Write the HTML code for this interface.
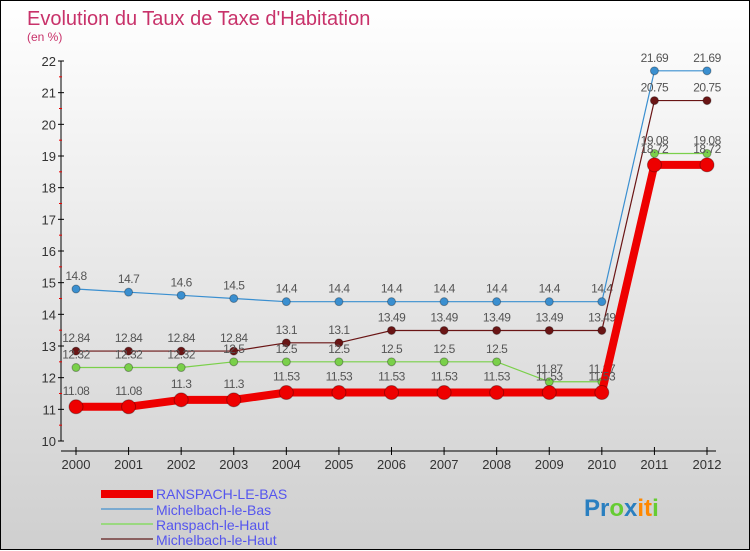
<!DOCTYPE html>
<html><head><meta charset="utf-8"><style>
body{margin:0;width:750px;height:550px;overflow:hidden;font-family:"Liberation Sans",sans-serif}
#wrap{position:relative;width:748px;height:548px;border:1px solid #000;background:linear-gradient(#fff,#cfcfcf)}
svg{position:absolute;left:0;top:0}
</style></head><body>
<div id="wrap">
<svg id="c" width="750" height="550">
<text x="26" y="24" font-size="20" fill="#c8326a">Evolution du Taux de Taxe d'Habitation</text>
<text x="26" y="40" font-size="12" fill="#c8326a">(en %)</text>
<g id="axes"></g><g id="series"></g>
<g>
<rect x="100" y="489" width="52" height="8" fill="#e00"/>
<text x="155" y="498" font-size="14" fill="#5555ee">RANSPACH-LE-BAS</text>
<line x1="100" y1="508" x2="152" y2="508" stroke="#7aaad0" stroke-width="2"/>
<text x="155" y="514" font-size="14" fill="#5555ee">Michelbach-le-Bas</text>
<line x1="100" y1="523" x2="152" y2="523" stroke="#9ad880" stroke-width="2"/>
<text x="155" y="529" font-size="14" fill="#5555ee">Ranspach-le-Haut</text>
<line x1="100" y1="538" x2="152" y2="538" stroke="#8a6060" stroke-width="2"/>
<text x="155" y="544" font-size="14" fill="#5555ee">Michelbach-le-Haut</text>
</g>
<text x="583" y="515" font-size="24" font-weight="bold"><tspan fill="#2a7fc0">Pr</tspan><tspan fill="#6c3">o</tspan><tspan fill="#2a7fc0">x</tspan><tspan fill="#f80">it</tspan><tspan fill="#6c3">i</tspan></text>
</svg></div>
<script>
const years=[2000,2001,2002,2003,2004,2005,2006,2007,2008,2009,2010,2011,2012];
const yTicks=[10,11,12,13,14,15,16,17,18,19,20,21,22];
const ranspachBas=[11.08,11.08,11.3,11.3,11.53,11.53,11.53,11.53,11.53,11.53,11.53,18.72,18.72];
const michelbachBas=[14.8,14.7,14.6,14.5,14.4,14.4,14.4,14.4,14.4,14.4,14.4,21.69,21.69];
const ranspachHaut=[12.32,12.32,12.32,12.5,12.5,12.5,12.5,12.5,12.5,11.87,11.87,19.08,19.08];
const michelbachHaut=[12.84,12.84,12.84,12.84,13.1,13.1,13.49,13.49,13.49,13.49,13.49,20.75,20.75];
const NS='http://www.w3.org/2000/svg';
const xs=i=>75+i*(706-75)/(years.length-1);
const ys=v=>440-(v-10)*(380/12);
function mk(t,a,p){const e=document.createElementNS(NS,t);for(const k in a)e.setAttribute(k,a[k]);p.appendChild(e);return e;}
const ax=document.getElementById('axes');
mk('line',{x1:60,y1:60,x2:60,y2:440,stroke:'#000'},ax);
mk('line',{x1:60,y1:450,x2:715,y2:450,stroke:'#000'},ax);
yTicks.forEach(v=>{
 mk('line',{x1:57,y1:ys(v),x2:63,y2:ys(v),stroke:'#000'},ax);
 if(v<22) mk('line',{x1:58,y1:ys(v+0.5),x2:61,y2:ys(v+0.5),stroke:'#e00'},ax);
 const t=mk('text',{x:55,y:ys(v)+5,'font-size':13,'text-anchor':'end',fill:'#333'},ax);t.textContent=v;
 
 
});
years.forEach((y,i)=>{
 mk('line',{x1:xs(i),y1:446,x2:xs(i),y2:454,stroke:'#000'},ax);
 const t=mk('text',{x:xs(i),y:468,'font-size':13,'text-anchor':'middle',fill:'#333'},ax);t.textContent=y;
 
 
});
const sg=document.getElementById('series');
function series(d,col,w,r,name){
 const g=mk('g',{},sg);
 
 
 mk('polyline',{points:d.map((v,i)=>xs(i)+','+ys(v)).join(' '),fill:'none',stroke:col,'stroke-width':w},g);
 d.forEach((v,i)=>{
  const c=mk('circle',{cx:xs(i),cy:ys(v),r:r,fill:col,stroke:'rgba(0,0,0,0.3)'},g);
  
  
  const t=mk('text',{x:xs(i),y:ys(v)-(r+5),'font-size':12,'text-anchor':'middle',fill:'#555','letter-spacing':'-0.5'},g);t.textContent=v;
 });
}
series(michelbachBas,'#3a8fd0',1.2,4,'series-michelbach-le-bas');
series(michelbachHaut,'#6a1515',1.2,4,'series-michelbach-le-haut');
series(ranspachHaut,'#7ad04a',1.2,4,'series-ranspach-le-haut');
series(ranspachBas,'#ee0000',8,7,'series-ranspach-le-bas');
</script></body></html>
